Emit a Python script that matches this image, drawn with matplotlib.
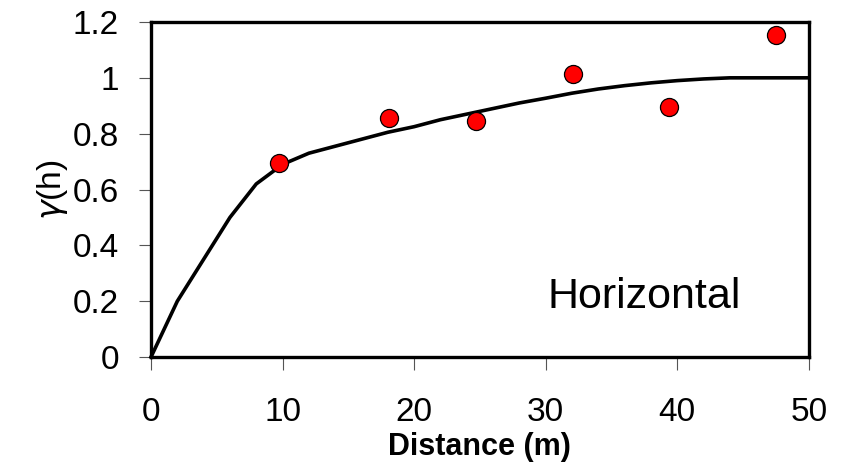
import matplotlib

matplotlib.use('Agg')
import matplotlib.pyplot as plt

plt.rcParams['font.family'] = ['Liberation Sans', 'DejaVu Sans']

# 实测点 (experimental semivariogram)
lag_x = [9.7, 18.1, 24.7, 32.1, 39.4, 47.5]
gamma_obs = [0.695, 0.855, 0.845, 1.015, 0.895, 1.152]

# 拟合模型曲线
model_x = [0, 2, 4, 6, 8, 10, 12, 14, 16, 18, 20, 22, 24, 26, 28, 30,
           32, 34, 36, 38, 40, 42, 44, 46, 48, 50]
model_y = [0.0, 0.2, 0.35, 0.5, 0.62, 0.69, 0.73, 0.755, 0.78, 0.805, 0.825,
           0.85, 0.87, 0.89, 0.91, 0.927, 0.945, 0.96, 0.972, 0.982, 0.99,
           0.996, 1.0, 1.0, 1.0, 1.0]

x_ticks = [0, 10, 20, 30, 40, 50]
y_ticks = [0, 0.2, 0.4, 0.6, 0.8, 1.0, 1.2]
y_ticklabels = ['0', '0.2', '0.4', '0.6', '0.8', '1', '1.2']

fig = plt.figure(figsize=(8.46, 4.74), dpi=100)
ax = fig.add_axes([0.1785, 0.2468, 0.7775, 0.7068])

ax.plot(model_x, model_y, color='black', lw=2.6, zorder=2, clip_on=False)
ax.plot(lag_x, gamma_obs, 'o', color='#ff0000', mec='black', mew=0.9,
        ms=13, zorder=3, clip_on=False)

ax.set_xlim(0, 50)
ax.set_ylim(0, 1.2)
ax.set_xticks(x_ticks)
ax.set_yticks(y_ticks)
ax.set_yticklabels(y_ticklabels)
for s in ax.spines.values():
    s.set_linewidth(2.4)
ax.tick_params(direction='out', length=9, width=0.8, color='#555555',
               labelsize=24)
ax.tick_params(axis='x', pad=20)
ax.tick_params(axis='y', pad=14)

ax.text(0.75, 0.18, 'Horizontal', transform=ax.transAxes, fontsize=31,
        ha='center', va='center')
ax.set_xlabel('Distance (m)', fontsize=22, fontweight='bold', labelpad=3)
ax.set_ylabel(r'$\gamma$(h)', fontsize=24, labelpad=2)

fig.savefig('out.png', dpi=100)
